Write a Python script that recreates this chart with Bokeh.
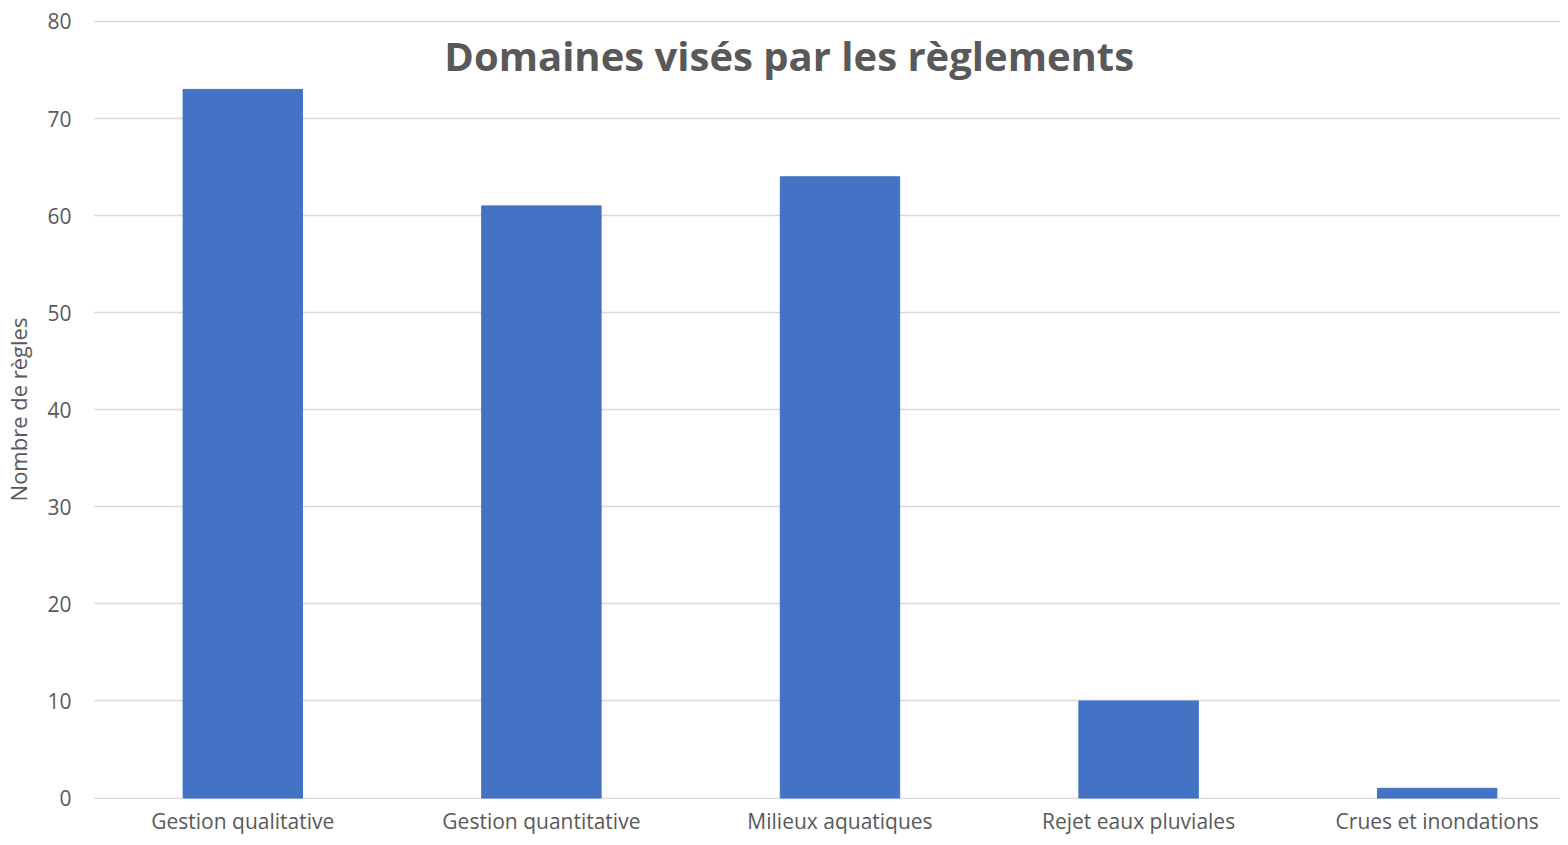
from bokeh.plotting import figure
from bokeh.models import Range1d, FixedTicker, Label
from bokeh.embed import file_html
from bokeh.resources import INLINE

categories = ["Gestion qualitative", "Gestion quantitative", "Milieux aquatiques",
              "Rejet eaux pluviales", "Crues et inondations"]
values = [73, 61, 64, 10, 1]
positions = [1, 2, 3, 4, 5]
y_ticks = [0, 10, 20, 30, 40, 50, 60, 70, 80]

TEXT = "#595959"
FONT = "Open Sans"

p = figure(width=1560, height=837, output_backend="svg", toolbar_location=None,
           x_range=Range1d(0.5, 5.413), y_range=Range1d(-0.15, 80.2),
           min_border_left=93, min_border_right=0, min_border_top=19, min_border_bottom=36)
p.outline_line_color = None
p.background_fill_color = "white"

p.vbar(x=positions, top=values, width=0.4, color="#4472C4")

p.xaxis.ticker = FixedTicker(ticks=positions)
p.xaxis.major_label_overrides = {pos: c for pos, c in zip(positions, categories)}
p.yaxis.ticker = FixedTicker(ticks=y_ticks)

for ax in (p.xaxis, p.yaxis):
    ax.axis_line_color = None
    ax.major_tick_line_color = None
    ax.minor_tick_line_color = None
    ax.major_tick_out = 0
    ax.major_tick_in = 0
    ax.minor_tick_out = 0
    ax.minor_tick_in = 0
    ax.major_label_text_color = TEXT
    ax.major_label_text_font = FONT
    ax.major_label_text_font_size = "21px"

p.xaxis.major_label_standoff = 7
p.yaxis.major_label_standoff = 22
p.yaxis.axis_label = "Nombre de règles"
p.yaxis.axis_label_text_font = FONT
p.yaxis.axis_label_text_font_size = "22px"
p.yaxis.axis_label_text_font_style = "normal"
p.yaxis.axis_label_text_color = TEXT
p.yaxis.axis_label_standoff = 11

p.xgrid.grid_line_color = None
p.ygrid.ticker = FixedTicker(ticks=y_ticks)
p.ygrid.grid_line_color = "#d9d9d9"
p.ygrid.grid_line_width = 1.5

title = Label(x=2.83, y=76.5, text="Domaines visés par les règlements",
              text_align="center", text_baseline="middle",
              text_font=FONT, text_font_style="bold", text_font_size="40px",
              text_color=TEXT)
p.add_layout(title)

open("out.html", "w").write(file_html(p, INLINE))
